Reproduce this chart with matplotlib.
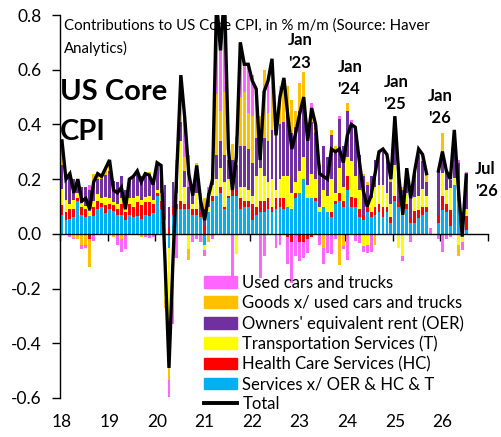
import numpy as np
import matplotlib
matplotlib.use("Agg")
import matplotlib.pyplot as plt
from matplotlib.patches import Patch
from matplotlib.lines import Line2D

plt.rcParams['font.family'] = ['Lato', 'DejaVu Sans']
plt.rcParams['axes.unicode_minus'] = False

nan = np.nan

# monthly contributions, Jan 2018 .. Jul 2026 (Oct/Nov 2025 missing)
svc = [.07, .05, .055, .06, .12, .07, .06, .065, .065, .09, .1, .075,
       .09, .085, .07, .07, .05, .07, .06, .065, .055, .07, .065, .075,
       .14, .09, .05, -.05, .07, .09, .09, .09, .09, .07, .07, .06,
       -.04, .08, .12, .14, .15, .09, .13, .14, .14, .09, .1, .1,
       .05, .07, .08, .08, .09, .08, .09, .1, .09, .1, .09, .13,
       .15, .2, .13, .13, .12, .08, .1, .08, .06, .11, .12, .1,
       .16, .1, .1, .06, .05, .08, .06, .07, .08, .06, .08, .04,
       .12, .1, .07, .09, .04, .04, .057, .07, .08, nan, nan, .04,
       .088, .08, .027, .18, .12, .03, .015]
hc = [.035, .03, .035, .03, .01, .03, .03, -.02, .035, .03, .012, .03,
      .02, .02, .02, .04, .03, .04, .04, .05, .05, .045, .05, .035,
      .01, .03, .03, .02, .03, .02, .03, .02, .02, .02, .02, .02,
      .03, 0, .02, 0, .02, .01, .01, .02, .02, .04, .02, .02,
      .06, .03, .04, .04, .04, .02, .04, .03, .04, -.01, -.03, .02,
      -.03, -.03, -.02, -.01, .01, 0, 0, 0, .02, .01, .03, .02,
      .05, .035, .03, .03, .02, .02, .02, .03, .03, .04, .02, .02,
      .02, .02, .03, .02, .02, .045, .03, .03, .02, nan, nan, .03,
      .05, .03, .06, 0, 0, 0, .05]
trn = [.06, .045, .02, .035, .02, .012, .012, .02, .02, .025, .02, .03,
       .02, .01, .02, .02, .01, .02, .03, .025, .02, .02, .025, .015,
       .01, .03, -.24, -.44, -.18, .04, .22, .06, -.055, .02, .06, 0,
       -.02, .02, .04, .06, .07, .09, .06, .04, -.075, .04, .05, .04,
       .03, .11, .12, .09, .06, .1, .03, .07, .08, .11, .06, .04,
       .08, .08, .05, .09, .07, .02, .06, .06, .12, .03, .09, .05,
       .07, .13, .08, .07, -.045, -.04, .05, .07, .07, .08, .05, .05,
       .11, -.05, -.08, .04, 0, .05, .05, .065, .04, nan, nan, 0,
       .085, .05, .08, .025, -.04, -.03, .025]
oer = [.085, .085, .1, .075, .05, .06, .07, .075, .065, .055, .07, .08,
       .1, .08, .08, .08, .07, .07, .085, .08, .085, .08, .075, .06,
       .09, .09, .1, .08, .09, .06, .07, .06, .06, .05, .06, .05,
       .06, .05, .04, .09, .1, .1, .07, .07, .09, .15, .15, .15,
       .12, .14, .12, .14, .15, .18, .2, .2, .2, .22, .22, .2,
       .22, .2, .2, .19, .17, .15, .16, .14, .16, .15, .18, .15,
       .17, .14, .18, .13, .14, .08, .08, .1, .12, .12, .12, .08,
       .12, .12, .06, .07, .07, .08, .15, .1, .05, nan, nan, .16,
       .08, .07, .03, .16, .14, 0, .13]
gds = [.035, .01, .015, -.015, -.02, -.04, -.04, -.1, .035, .025, .01, .02,
       .04, -.01, 0, -.02, 0, .005, -.005, .01, -.01, .01, .01, .005,
       .01, 0, -.03, -.045, -.07, .06, .07, .05, -.04, .01, .05, .02,
       .04, -.03, 0, .22, .11, .23, .04, .06, .07, .18, .2, .13,
       .17, .18, .07, .25, .1, .2, .05, .14, .16, .11, .12, .06,
       .1, .11, .03, .04, .03, .01, -.05, 0, .02, .02, -.115, -.045,
       .03, 0, 0, 0, .01, .01, 0, -.04, 0, .01, .02, .01,
       .03, .02, .01, .02, .03, .02, .02, .03, .03, nan, nan, 0,
       .065, 0, 0, 0, -.04, 0, 0]
car = [.02, -.005, -.01, -.005, 0, -.015, -.01, .02, -.025, 0, 0, 0,
       0, 0, -.04, -.045, -.055, -.005, 0, -.005, 0, -.01, -.015, -.01,
       0, .01, 0, -.06, -.08, -.09, .1, .14, .12, -.03, -.02, -.03,
       -.02, .02, -.02, .32, .22, .32, 0, -.17, .035, .2, .1, .18,
       .15, 0, -.16, -.08, .12, .06, -.05, -.04, 0, -.1, -.15, -.08,
       -.07, -.06, -.05, .03, 0, -.04, -.06, -.07, -.075, -.02, .01, -.01,
       -.095, .01, -.025, -.035, -.02, -.03, -.065, 0, 0, 0, 0, 0,
       .03, 0, -.02, 0, -.03, 0, 0, 0, 0, .02, nan, -.02,
       -.065, -.02, -.01, .01, .01, -.03, .005]
total = [.34, .20, .22, .15, .20, .12, .13, .09, .19, .22, .21, .24,
         .27, .16, .15, .17, .09, .20, .21, .23, .19, .22, .215, .18,
         .26, .25, -.10, -.49, -.10, .24, .58, .42, .22, .14, .25, .12,
         .05, .14, .20, .85, .67, .88, .31, .16, .28, .70, .62, .62,
         .56, .53, .27, .52, .56, .64, .36, .50, .57, .43, .31, .37,
         .44, .50, .34, .46, .40, .22, .21, .20, .31, .30, .31, .26,
         .36, .40, .39, .27, .16, .10, .14, .22, .30, .31, .29, .20,
         .43, .21, .07, .24, .13, .23, .31, .29, .22, nan, nan, .23,
         .30, .23, .20, .38, .17, -.01, .215]

names = ['Services x/ OER & HC & T', 'Health Care Services (HC)',
         'Transportation Services (T)', "Owners' equivalent rent (OER)",
         'Goods x/ used cars and trucks', 'Used cars and trucks']
colors = ['#00B0F0', '#FF0000', '#FFFF00', '#7030A0', '#FFC000', '#FF66FF']
series = [svc, hc, trn, oer, gds, car]

years = ['18', '19', '20', '21', '22', '23', '24', '25', '26']

W, H = 502, 437
fig = plt.figure(figsize=(W / 100, H / 100), dpi=100)
ax = fig.add_axes([60 / W, 1 - 398 / H, 428 / W, 383 / H])

x = np.arange(len(total)) + 0.5
pos_base = np.zeros(len(x))
neg_base = np.zeros(len(x))
for vals, col in zip(series, colors):
    v = np.nan_to_num(np.array(vals, dtype=float))
    p = np.where(v > 0, v, 0)
    n = np.where(v < 0, v, 0)
    ax.bar(x, p, 0.72, bottom=pos_base, color=col, linewidth=0, zorder=2)
    ax.bar(x, n, 0.72, bottom=neg_base, color=col, linewidth=0, zorder=2)
    pos_base += p
    neg_base += n

ax.plot(x, total, color='black', lw=2.4, zorder=3, solid_joinstyle='miter')

ax.set_xlim(0, 108)
ax.set_ylim(-0.6, 0.8)
yt = np.arange(-0.6, 0.81, 0.2)
ax.set_yticks(yt)
ax.set_yticklabels(['%.1f' % t for t in yt], fontsize=12.5)
ax.set_xticks(np.arange(0, 109, 12))
ax.tick_params(axis='x', direction='out', length=5, width=1, labelbottom=False)
ax.tick_params(axis='y', direction='out', length=6, width=1, pad=7)
ax.spines['top'].set_visible(False)
ax.spines['right'].set_visible(False)
ax.spines['bottom'].set_position(('data', 0))
ax.spines['bottom'].set_zorder(4)
for s in ['left', 'bottom']:
    ax.spines[s].set_linewidth(1)

for k, lab in enumerate(years):
    ax.text(k * 12 + 0.5, -0.687, lab, ha='center', va='center', fontsize=12.5)

ax.text(1, 0.762, 'Contributions to US Core CPI, in % m/m (Source: Haver',
        ha='left', va='center', fontsize=10.8, zorder=1)
ax.text(1, 0.678, 'Analytics)', ha='left', va='center', fontsize=10.8, zorder=1)
ax.text(0, 0.52, 'US Core', ha='left', va='center', fontsize=21,
        fontweight='bold', zorder=1)
ax.text(0, 0.374, 'CPI', ha='left', va='center', fontsize=21,
        fontweight='bold', zorder=1)

# (month position of left edge, height of first line, line 1, line 2)
notes = [(57.6, 0.708, 'Jan', "'23"), (70, 0.61, 'Jan', "'24"),
         (81.6, 0.555, 'Jan', "'25"), (92.9, 0.504, 'Jan', "'26"),
         (104.8, 0.237, 'Jul', "'26")]
for xi, yi, s1, s2 in notes:
    ax.text(xi, yi, s1, ha='left', va='center', fontsize=12,
            fontweight='bold', zorder=1)
    ax.text(xi, yi - 0.082, s2, ha='left', va='center', fontsize=12,
            fontweight='bold', zorder=1)

handles = [Patch(color=c) for c in colors[::-1]]
labels = names[::-1]
handles.append(Line2D([0], [0], color='black', lw=2.8))
labels.append('Total')
fig.legend(handles, labels, loc='upper left', bbox_to_anchor=(204 / W, 1 - 275 / H),
           frameon=False, fontsize=12, handlelength=2.0, handleheight=0.7,
           handletextpad=0.3, labelspacing=0.24, borderpad=0, borderaxespad=0)

fig.savefig('out.png', dpi=100)
